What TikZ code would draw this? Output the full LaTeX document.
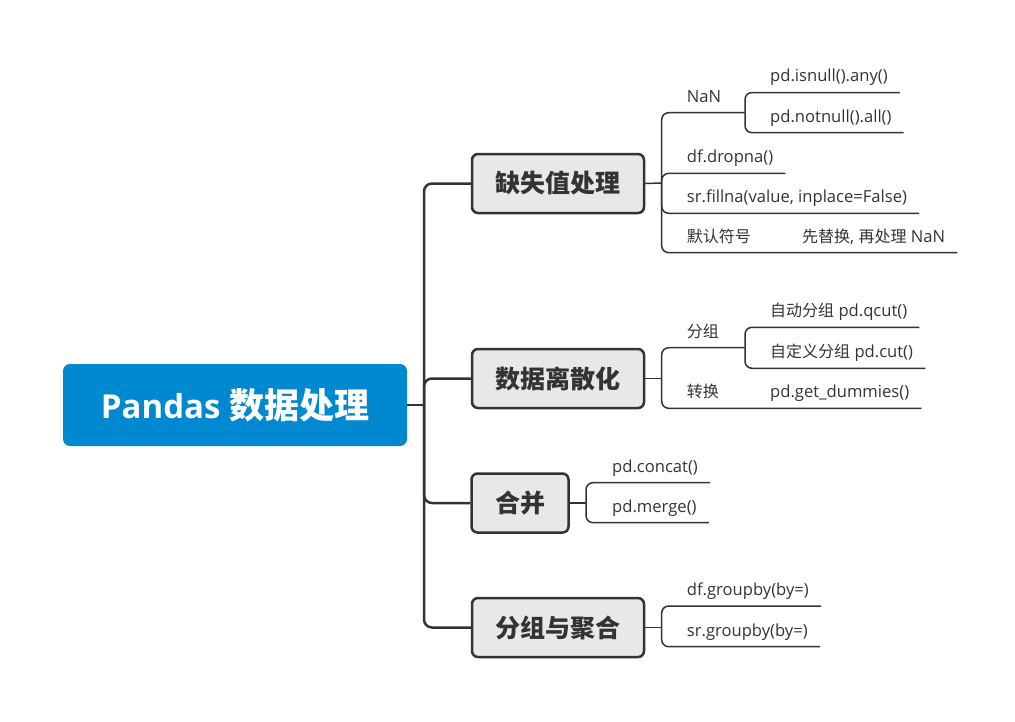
\documentclass[tikz,border=0pt]{standalone}
\usepackage{fontspec}
\setmainfont{Open Sans}
\newfontfamily\cjk{Noto Sans CJK SC}
\definecolor{rootblue}{HTML}{0088D1}
\definecolor{inkgray}{HTML}{333333}
\definecolor{topicfill}{HTML}{E8E8E8}
\tikzset{
  rootbox/.style={fill=rootblue, rounded corners=7pt, minimum width=344pt, minimum height=82pt,
    text=white, font=\fontsize{33}{36}\selectfont\bfseries},
  topic/.style={draw=inkgray, line width=2.5pt, fill=topicfill, rounded corners=6pt,
    minimum width=172pt, minimum height=59pt, text=inkgray, font=\cjk\fontsize{25}{28}\selectfont\bfseries},
  leaf/.style={anchor=south west, inner xsep=12pt, inner ysep=0pt, text depth=10.5pt,
    text=inkgray, font=\fontsize{16.6}{18}\selectfont},
  trunk/.style={draw=inkgray, line width=2.5pt, rounded corners=8pt},
  branch/.style={draw=inkgray, line width=1.5pt, rounded corners=7pt},
}
\begin{document}
\begin{tikzpicture}[x=1pt, y=-1pt]
    \useasboundingbox (0,0) rectangle (1015,721);

    % root and main topics
    \node[rootbox] (root) at (235,405) {Pandas {\cjk\fontsize{35}{38}\selectfont 数据处理}};
    \node[topic] (miss)  at (558,183.5) {缺失值处理};
    \node[topic] (disc)  at (558,378.5) {数据离散化};
    \node[topic, minimum width=97pt] (merge) at (520,503) {合并};
    \node[topic] (group) at (558,627.5) {分组与聚合};

    \coordinate (rootbar) at (424,405);
    \draw[trunk] (root.east) -- (rootbar);
    \foreach \t in {miss,disc,merge,group} {
        \draw[trunk] (rootbar) |- (\t.west);
    }

    % missing values
    \node[leaf] (nan)     at (674.7,112.7) {NaN};
    \node[leaf] (isnull)  at (758,92.5)    {pd.isnull().any()};
    \node[leaf] (notnull) at (758,132.7)   {pd.notnull().all()};
    \node[leaf] (dropna)  at (674.7,173.3) {df.dropna()};
    \node[leaf] (fillna)  at (674.7,213.3) {sr.fillna(value, inplace=False)};
    \node[leaf] (sym)     at (674.7,252.7) {{\cjk\fontsize{16}{18}\selectfont 默认符号}};
    \node[leaf] (replace) at (790,252.7)   {{\cjk\fontsize{16}{18}\selectfont 先替换}, {\cjk\fontsize{16}{18}\selectfont 再处理} NaN};

    \coordinate (missbar) at (661.7,183);
    \coordinate (nanbar) at (745,112.7);
    \draw[branch] (miss.east) -- (missbar);
    \foreach \n in {dropna,fillna} {
        \draw[branch] (missbar) |- (\n.south east);
    }
    \draw[branch] (missbar) |- (nan.south east) -- (nanbar);
    \draw[branch] (missbar) |- (sym.south east) -- (replace.south east);
    \foreach \n in {isnull,notnull} {
        \draw[branch] (nanbar) |- (\n.south east);
    }

    % discretization
    \node[leaf] (bin)     at (674.7,347.7) {{\cjk\fontsize{16}{18}\selectfont 分组}};
    \node[leaf] (qcut)    at (758,327.3)   {{\cjk\fontsize{16}{18}\selectfont 自动分组} pd.qcut()};
    \node[leaf] (cut)     at (758,368.3)   {{\cjk\fontsize{16}{18}\selectfont 自定义分组} pd.cut()};
    \node[leaf] (conv)    at (674.7,408.3) {{\cjk\fontsize{16}{18}\selectfont 转换}};
    \node[leaf] (dummies) at (758,408.3)   {pd.get\_dummies()};

    \coordinate (discbar) at (661.7,378.5);
    \coordinate (binbar) at (745,347.7);
    \draw[branch] (disc.east) -- (discbar);
    \draw[branch] (discbar) |- (bin.south east) -- (binbar);
    \draw[branch] (discbar) |- (conv.south east) -- (dummies.south east);
    \foreach \n in {qcut,cut} {
        \draw[branch] (binbar) |- (\n.south east);
    }

    % merging
    \node[leaf] (concat) at (600,482.7) {pd.concat()};
    \node[leaf] (mergef) at (600,522.7) {pd.merge()};

    \coordinate (mergebar) at (586,503);
    \draw[branch] (merge.east) -- (mergebar);
    \foreach \n in {concat,mergef} {
        \draw[branch] (mergebar) |- (\n.south east);
    }

    % grouping
    \node[leaf] (dfgroup) at (674.7,606)   {df.groupby(by=)};
    \node[leaf] (srgroup) at (674.7,646.7) {sr.groupby(by=)};

    \coordinate (groupbar) at (661.7,627.5);
    \draw[branch] (group.east) -- (groupbar);
    \foreach \n in {dfgroup,srgroup} {
        \draw[branch] (groupbar) |- (\n.south east);
    }
\end{tikzpicture}
\end{document}
